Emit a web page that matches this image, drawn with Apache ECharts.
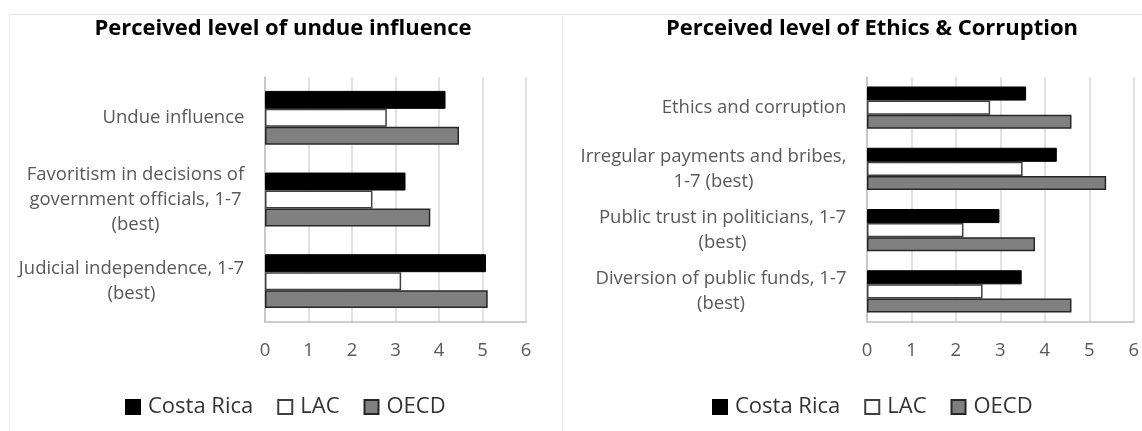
<!DOCTYPE html>
<html>
<head>
<meta charset="utf-8">
<script src="https://cdn.jsdelivr.net/npm/echarts@6/dist/echarts.min.js"></script>
<style>
  html, body { margin: 0; padding: 0; background: #fff; }
  #chart { width: 1142px; height: 431px; }
</style>
</head>
<body>
<div id="chart"></div>
<script>
// Series names shared by both panels
const seriesNames = ['Costa Rica', 'LAC', 'OECD'];

// Panel 1: perceived level of undue influence
const influenceTitle = 'Perceived level of undue influence';
const influenceCategories = [
  'Undue influence',
  'Favoritism in decisions of\ngovernment officials, 1-7\n(best)',
  'Judicial independence, 1-7\n(best)'
];
const influenceCostaRica = [4.15, 3.23, 5.08];
const influenceLAC = [2.80, 2.47, 3.13];
const influenceOECD = [4.46, 3.80, 5.12];

// Panel 2: perceived level of ethics & corruption
const ethicsTitle = 'Perceived level of Ethics & Corruption';
const ethicsCategories = [
  'Ethics and corruption',
  'Irregular payments and bribes,\n1-7 (best)',
  'Public trust in politicians, 1-7\n(best)',
  'Diversion of public funds, 1-7\n(best)'
];
const ethicsCostaRica = [3.58, 4.27, 2.98, 3.48];
const ethicsLAC = [2.77, 3.50, 2.17, 2.60];
const ethicsOECD = [4.60, 5.38, 3.78, 4.60];

// Value axis ticks
const axisMin = 0;
const axisMax = 6;
const axisStep = 1;

const FONT = '"Open Sans", "Liberation Sans", sans-serif';
const LABEL_SIZE = 18.5;
const LABEL_COLOR = '#595959';

// Multi-line category labels: the block is right-aligned to the axis,
// while the lines inside it are centred on each other.
const measureCtx = document.createElement('canvas').getContext('2d');
measureCtx.font = LABEL_SIZE + 'px ' + FONT;
function blockLabel(categories, prefix) {
  const rich = {};
  categories.forEach((c, i) => {
    const w = Math.max(...c.split('\n').map(l => measureCtx.measureText(l).width));
    rich[prefix + i] = {
      width: Math.ceil(w) + 1,
      align: 'center',
      fontSize: LABEL_SIZE,
      lineHeight: 25,
      color: LABEL_COLOR,
      fontFamily: FONT
    };
  });
  return {
    rich,
    formatter: (value, idx) => value.split('\n').map(l => '{' + prefix + idx + '|' + l + '}').join('\n')
  };
}

const styles = {
  'Costa Rica': { color: '#000000', borderColor: '#000000', borderWidth: 1 },
  'LAC': { color: '#ffffff', borderColor: '#404040', borderWidth: 1.5 },
  'OECD': { color: '#808080', borderColor: '#262626', borderWidth: 1.5 }
};

function valueAxis(gridIndex) {
  return {
    type: 'value', gridIndex, min: axisMin, max: axisMax, interval: axisStep,
    axisLine: { show: true, lineStyle: { color: '#bfbfbf', width: 1.5 } },
    axisTick: { show: false },
    splitLine: { show: true, lineStyle: { color: '#d9d9d9', width: 1.5 } },
    axisLabel: { color: LABEL_COLOR, fontSize: 18.5, fontFamily: FONT, margin: 19 }
  };
}

function categoryAxis(gridIndex, categories, prefix) {
  const lbl = blockLabel(categories, prefix);
  return {
    type: 'category', gridIndex, data: categories, inverse: true,
    axisLine: { show: true, lineStyle: { color: '#bfbfbf', width: 1.5 } },
    axisTick: { show: false },
    splitLine: { show: false },
    axisLabel: {
      margin: 20, align: 'right', interval: 0,
      color: LABEL_COLOR, fontSize: LABEL_SIZE, fontFamily: FONT,
      formatter: lbl.formatter, rich: lbl.rich
    }
  };
}

function barSeries(name, data, idx, gap) {
  return {
    type: 'bar', name, data,
    xAxisIndex: idx, yAxisIndex: idx,
    barGap: '0%', barCategoryGap: gap,
    itemStyle: styles[name],
    emphasis: { disabled: true },
    animation: false
  };
}

function legendAt(left) {
  return {
    left, top: 391, orient: 'horizontal',
    data: seriesNames,
    icon: 'rect', itemWidth: 14, itemHeight: 14, itemGap: 24,
    textStyle: { fontSize: 22, color: '#333333', fontFamily: FONT, padding: [0, 0, 0, 3] }
  };
}

const chart = echarts.init(document.getElementById('chart'), null, { renderer: 'canvas' });
chart.setOption({
  backgroundColor: '#ffffff',
  animation: false,
  title: [
    { text: influenceTitle, left: 278, top: 13, textAlign: 'center',
      textStyle: { fontSize: 22, fontWeight: 'bold', color: '#000', fontFamily: FONT } },
    { text: ethicsTitle, left: 867, top: 13, textAlign: 'center',
      textStyle: { fontSize: 22, fontWeight: 'bold', color: '#000', fontFamily: FONT } }
  ],
  legend: [legendAt(120), legendAt(707)],
  grid: [
    { left: 265, right: 616, top: 77, bottom: 109 },
    { left: 867, right: 4, top: 77, bottom: 109 }
  ],
  xAxis: [valueAxis(0), valueAxis(1)],
  yAxis: [
    categoryAxis(0, influenceCategories, 'a'),
    categoryAxis(1, ethicsCategories, 'b')
  ],
  graphic: [
    // panel frames
    { type: 'line', shape: { x1: 9, y1: 14.5, x2: 1142, y2: 14.5 }, style: { stroke: '#e3e3e3', lineWidth: 1 }, silent: true },
    { type: 'line', shape: { x1: 9.5, y1: 14, x2: 9.5, y2: 431 }, style: { stroke: '#efefef', lineWidth: 1 }, silent: true },
    { type: 'line', shape: { x1: 562.5, y1: 14, x2: 562.5, y2: 431 }, style: { stroke: '#eeeeee', lineWidth: 1.5 }, silent: true }
  ],
  series: [
    barSeries('Costa Rica', influenceCostaRica, 0, '34%'),
    barSeries('LAC', influenceLAC, 0, '34%'),
    barSeries('OECD', influenceOECD, 0, '34%'),
    barSeries('Costa Rica', ethicsCostaRica, 1, '31%'),
    barSeries('LAC', ethicsLAC, 1, '31%'),
    barSeries('OECD', ethicsOECD, 1, '31%')
  ]
});
</script>
</body>
</html>
